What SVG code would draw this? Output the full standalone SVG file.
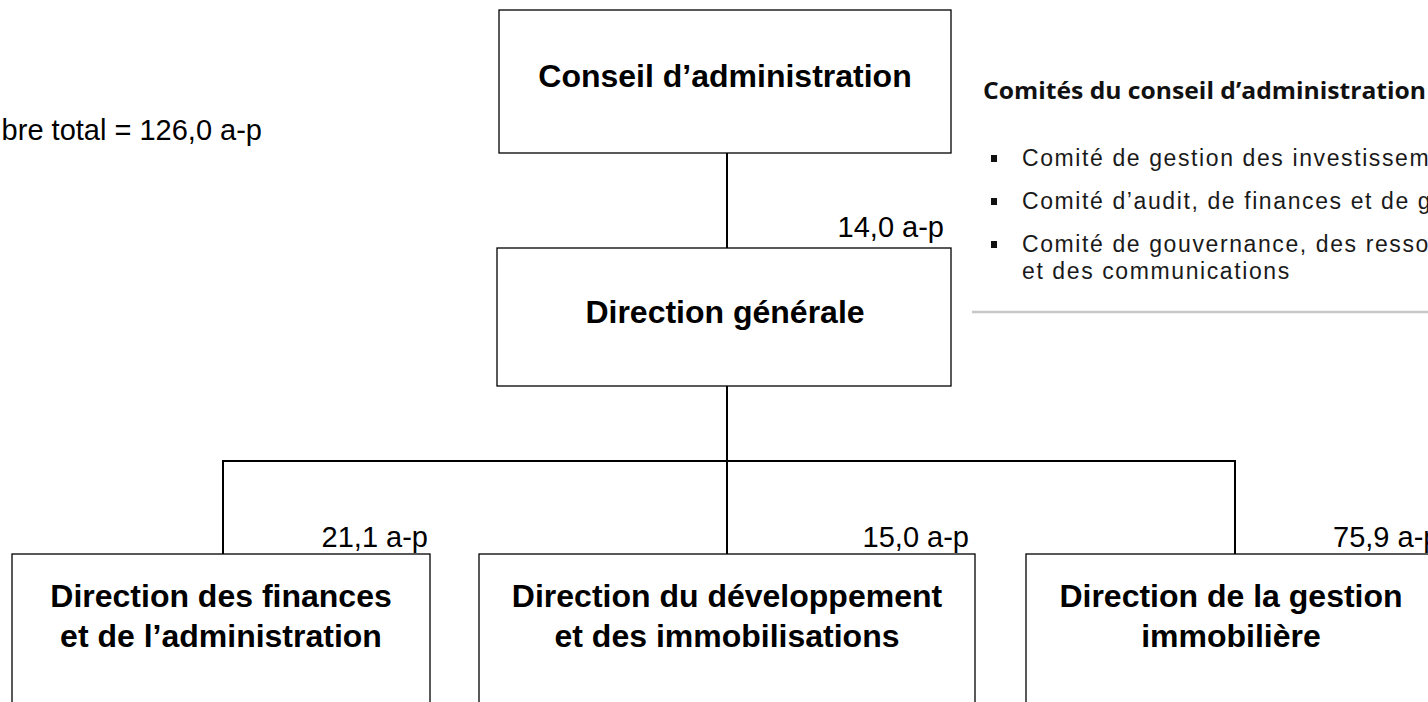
<svg xmlns="http://www.w3.org/2000/svg" width="1428" height="702" viewBox="0 0 1428 702">
<style>
.box{fill:#fff;stroke:#000;stroke-width:1.3}
.conn{fill:none;stroke:#000;stroke-width:2}
.bt{font-family:"Liberation Sans",Arial,sans-serif;font-weight:bold;font-size:32px;fill:#000;text-anchor:middle}
.lab{font-family:"Liberation Sans",Arial,sans-serif;font-size:29px;fill:#000}
.ct{font-family:"Open Sans","Liberation Sans",Arial,sans-serif;font-weight:bold;font-size:23px;fill:#111}
.cl{font-family:"Liberation Sans",Arial,sans-serif;font-size:23px;fill:#1a1a1a;letter-spacing:1.6px}
.bul{fill:#111}
</style>
<rect width="1428" height="702" fill="#fff"/>
<g id="connectors">
<path class="conn" d="M727 153V248"/>
<path class="conn" d="M727 386V554"/>
<path class="conn" d="M223 554V461H1235V554"/>
</g>
<g id="node-conseil">
<rect class="box" x="499" y="10" width="452" height="143"/>
<text class="bt" x="725" y="87">Conseil d’administration</text>
</g>
<g id="node-dg">
<rect class="box" x="497" y="248" width="454" height="138"/>
<text class="bt" x="725" y="323">Direction générale</text>
<text class="lab" x="944" y="237" text-anchor="end">14,0 a-p</text>
</g>
<g id="node-dfa">
<rect class="box" x="12" y="554" width="418" height="170"/>
<text class="bt" x="221" y="607">Direction des finances</text>
<text class="bt" x="221" y="647">et de l’administration</text>
<text class="lab" x="428" y="547" text-anchor="end">21,1 a-p</text>
</g>
<g id="node-ddi">
<rect class="box" x="479" y="554" width="496" height="170"/>
<text class="bt" x="727" y="607">Direction du développement</text>
<text class="bt" x="727" y="647">et des immobilisations</text>
<text class="lab" x="969" y="547" text-anchor="end">15,0 a-p</text>
</g>
<g id="node-dgi">
<rect class="box" x="1026" y="554" width="412" height="170"/>
<text class="bt" x="1231" y="607">Direction de la gestion</text>
<text class="bt" x="1231" y="647">immobilière</text>
<text class="lab" x="1333" y="547">75,9 a-p</text>
</g>
<g id="total">
<text class="lab" x="262" y="140" text-anchor="end">bre total = 126,0 a-p</text>
</g>
<g id="comites">
<text class="ct" x="983" y="99" textLength="443" lengthAdjust="spacingAndGlyphs">Comités du conseil d’administration</text>
<rect class="bul" x="991" y="155" width="6" height="7"/>
<text class="cl" x="1022" y="166">Comité de gestion des investissements</text>
<rect class="bul" x="991" y="198" width="6" height="7"/>
<text class="cl" x="1022" y="209">Comité d’audit, de finances et de gestion</text>
<rect class="bul" x="991" y="241" width="6" height="7"/>
<text class="cl" x="1022" y="252">Comité de gouvernance, des ressources</text>
<text class="cl" x="1022" y="279">et des communications</text>
<line x1="972" y1="312" x2="1428" y2="312" stroke="#c8c8c8" stroke-width="2.5"/>
</g>
</svg>
